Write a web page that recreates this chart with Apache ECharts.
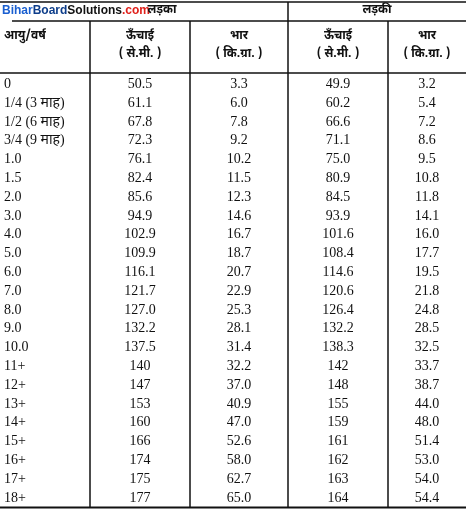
<!DOCTYPE html>
<html>
<head>
<meta charset="utf-8">
<script src="https://cdn.jsdelivr.net/npm/echarts@6/dist/echarts.min.js"></script>
<style>html,body{margin:0;padding:0;background:#fff}#main{width:466px;height:513px}</style>
</head>
<body>
<div id="main"></div>
<script>
// table data
var ages = ['0', '1/4 (3 माह)', '1/2 (6 माह)', '3/4 (9 माह)', '1.0', '1.5', '2.0', '3.0', '4.0', '5.0', '6.0', '7.0', '8.0', '9.0', '10.0', '11+', '12+', '13+', '14+', '15+', '16+', '17+', '18+'];
var boyHeight = ['50.5', '61.1', '67.8', '72.3', '76.1', '82.4', '85.6', '94.9', '102.9', '109.9', '116.1', '121.7', '127.0', '132.2', '137.5', '140', '147', '153', '160', '166', '174', '175', '177'];
var boyWeight = ['3.3', '6.0', '7.8', '9.2', '10.2', '11.5', '12.3', '14.6', '16.7', '18.7', '20.7', '22.9', '25.3', '28.1', '31.4', '32.2', '37.0', '40.9', '47.0', '52.6', '58.0', '62.7', '65.0'];
var girlHeight = ['49.9', '60.2', '66.6', '71.1', '75.0', '80.9', '84.5', '93.9', '101.6', '108.4', '114.6', '120.6', '126.4', '132.2', '138.3', '142', '148', '155', '159', '161', '162', '163', '164'];
var girlWeight = ['3.2', '5.4', '7.2', '8.6', '9.5', '10.8', '11.8', '14.1', '16.0', '17.7', '19.5', '21.8', '24.8', '28.5', '32.5', '33.7', '38.7', '44.0', '48.0', '51.4', '53.0', '54.0', '54.4'];
var groupLabels = ['लड़का', 'लड़की'];
var colHeads = [['आयु/वर्ष', ''], ['ऊँचाई', '( से.मी. )'], ['भार', '( कि.ग्रा. )'], ['ऊँचाई', '( से.मी. )'], ['भार', '( कि.ग्रा. )']];

// layout (pixel coordinates of the 466x513 sheet)
var colEdges = [0, 90, 190, 288, 388, 466];
var rowTop = 73, rowH = 18.8;
var serif = '"Liberation Serif", "DejaVu Serif", "Noto Sans", serif';
var deva = '"Noto Sans Devanagari", "Noto Sans", "Noto Sans CJK SC", sans-serif';

var cols = [ages, boyHeight, boyWeight, girlHeight, girlWeight];
var cells = [];
for (var r = 0; r < ages.length; r++) {
    for (var c = 0; c < cols.length; c++) cells.push([c, r, cols[c][r]]);
}

var myChart = echarts.init(document.getElementById('main'));
var option = {
    animation: false,
    grid: { left: 0, right: 0, top: 0, bottom: 0 },
    xAxis: { type: 'value', min: 0, max: 466, show: false },
    yAxis: { type: 'value', min: 0, max: 513, inverse: true, show: false },
    series: [
        {
            // frame lines and headers
            type: 'custom',
            data: [0],
            renderItem: function (params, api) {
                var ch = [];
                function ln(x1, y1, x2, y2, w) {
                    var a = api.coord([x1, y1]), b = api.coord([x2, y2]);
                    ch.push({ type: 'line', shape: { x1: a[0], y1: a[1], x2: b[0], y2: b[1] }, style: { stroke: '#111', lineWidth: w || 1.5 } });
                }
                function tx(x, y, s, opt) {
                    var p = api.coord([x, y]);
                    ch.push({ type: 'text', x: p[0], y: p[1], style: Object.assign({ text: s, fill: '#111', align: 'center', verticalAlign: 'middle', font: 'bold 12px ' + deva }, opt || {}) });
                }
                var bottom = rowTop + rowH * ages.length + 2;
                ln(0, 2, 466, 2);
                ln(12, 21, 466, 21);
                ln(0, rowTop, 466, rowTop);
                ln(0, bottom, 466, bottom, 2);
                ln(colEdges[1], 21, colEdges[1], bottom);
                ln(colEdges[2], 21, colEdges[2], bottom);
                ln(colEdges[3], 2, colEdges[3], bottom);
                ln(colEdges[4], 21, colEdges[4], bottom);
                // watermark + group headers
                var f = 'bold 12px "Liberation Sans", sans-serif';
                var p = api.coord([2, 11]);
                ch.push({ type: 'text', x: p[0], y: p[1], style: { rich: {
                    a: { fill: '#1a5fd0', font: f },
                    b: { fill: '#0d3d8a', font: f },
                    c: { fill: '#111', font: f },
                    d: { fill: '#e0201a', font: f }
                }, text: '{a|Bihar}{b|Board}{c|Solutions}{d|.com}', verticalAlign: 'middle', align: 'left' } });
                tx(162, 11, groupLabels[0]);
                tx(377, 11, groupLabels[1]);
                for (var c = 0; c < colHeads.length; c++) {
                    var cx = c === 0 ? 4 : (colEdges[c] + colEdges[c + 1]) / 2;
                    tx(cx, 37, colHeads[c][0], c === 0 ? { align: 'left' } : {});
                    if (colHeads[c][1]) tx(cx, 55, colHeads[c][1]);
                }
                return { type: 'group', children: ch };
            }
        },
        {
            // table cells
            type: 'custom',
            data: cells,
            renderItem: function (params, api) {
                var c = api.value(0), r = api.value(1);
                var s = cells[params.dataIndex][2];
                var x = c === 0 ? 4 : (colEdges[c] + colEdges[c + 1]) / 2;
                var p = api.coord([x, rowTop + 2 + rowH * (r + 0.5)]);
                return { type: 'text', x: p[0], y: p[1], style: {
                    text: s, fill: '#111', align: c === 0 ? 'left' : 'center', verticalAlign: 'middle',
                    font: '14px ' + serif
                } };
            }
        }
    ]
};
myChart.setOption(option);
</script>
</body>
</html>
